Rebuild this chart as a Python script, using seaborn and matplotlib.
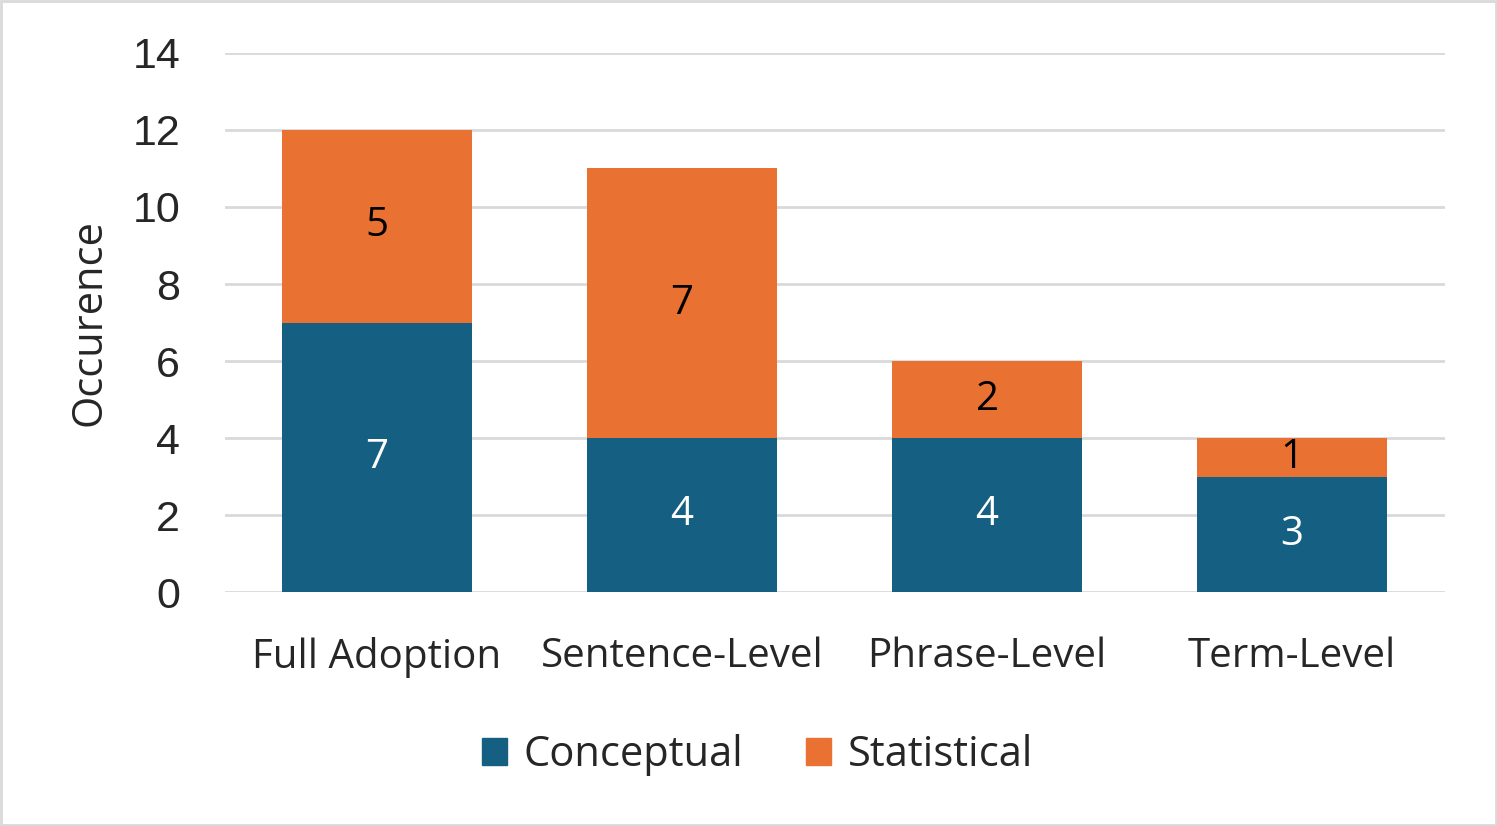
import pandas as pd
import matplotlib
matplotlib.use('Agg')
import matplotlib.pyplot as plt
import seaborn as sns

categories = ['Full Adoption', 'Sentence-Level', 'Phrase-Level', 'Term-Level']
conceptual = [7, 4, 4, 3]
statistical = [5, 7, 2, 1]

sns.set_style('white')
plt.rcParams['font.family'] = ['Open Sans', 'DejaVu Sans']

blue = '#156082'
orange = '#E97132'

df = pd.DataFrame({'Category': categories, 'Conceptual': conceptual, 'Statistical': statistical})

fig = plt.figure(figsize=(14.97, 8.26), dpi=100)
ax = fig.add_axes([0.150, 0.283, 0.815, 0.653])

sns.barplot(data=df, x='Category', y='Conceptual', color=blue, width=0.623,
            saturation=1, ax=ax, linewidth=0)
sns.barplot(data=df, x='Category', y='Statistical', color=orange, width=0.623,
            saturation=1, ax=ax, bottom=df['Conceptual'], linewidth=0)

ax.bar_label(ax.containers[0], label_type='center', color='white', fontsize=29)
ax.bar_label(ax.containers[1], label_type='center', color='black', fontsize=29)

ax.set_ylim(0, 14)
ax.set_xlim(-0.5, 3.5)
ax.set_yticks(range(0, 15, 2))
ax.yaxis.grid(True, color='#D9D9D9', linewidth=2)
ax.set_axisbelow(True)
for s in ax.spines.values():
    s.set_visible(False)
ax.tick_params(axis='y', length=0, pad=32, labelsize=31)
ax.tick_params(axis='x', length=0, pad=32, labelsize=29)
for t in ax.get_yticklabels():
    t.set_fontfamily(['Liberation Sans', 'DejaVu Sans'])
ax.set_xlabel('')
ax.set_ylabel('Occurence', fontsize=30, labelpad=16)

handles = [plt.Rectangle((0, 0), 1, 1, color=blue), plt.Rectangle((0, 0), 1, 1, color=orange)]
fig.legend(handles, ['Conceptual', 'Statistical'], loc='center', bbox_to_anchor=(0.506, 0.086),
           ncol=2, frameon=False, fontsize=30, handlelength=0.6, handleheight=0.6,
           handletextpad=0.4, columnspacing=1.5)

fig.patches.append(plt.Rectangle((0.0007, 0.001), 0.9986, 0.998, transform=fig.transFigure,
                                 fill=False, edgecolor='#D9D9D9', linewidth=2))

fig.savefig('out.png', dpi=100)
